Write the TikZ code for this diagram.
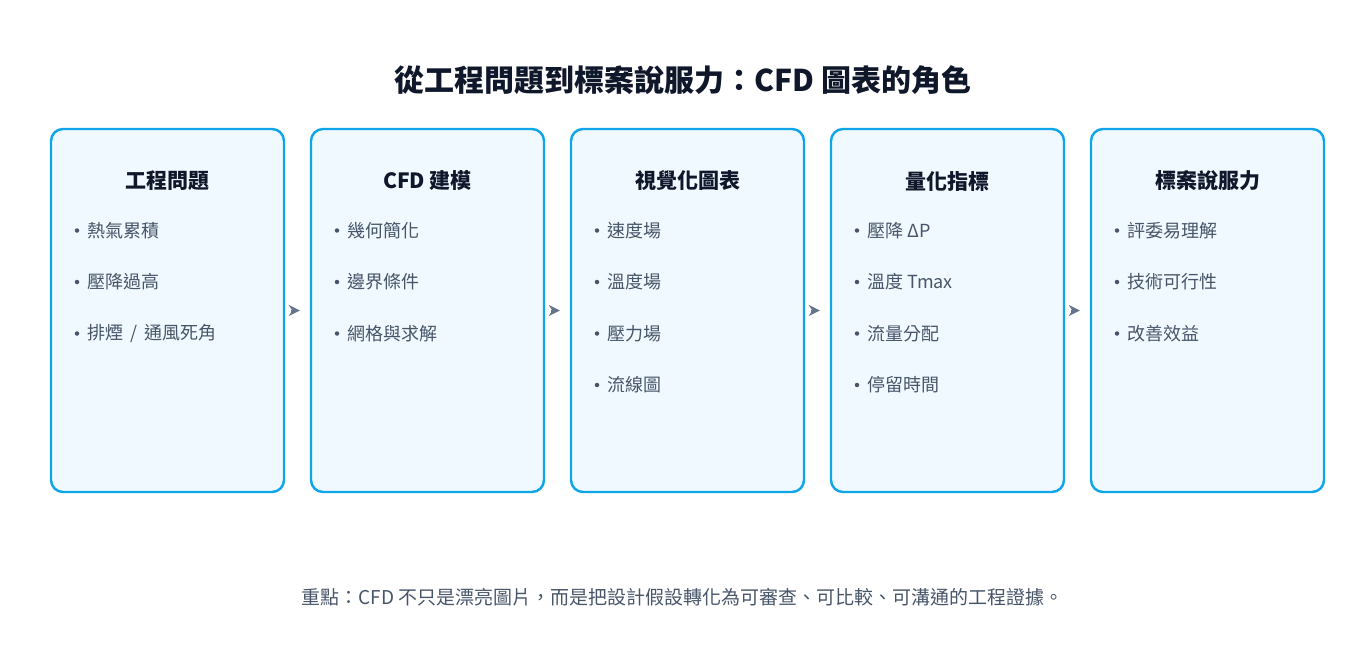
\documentclass[tikz,border=0pt]{standalone}
\usepackage{fontspec}
\setmainfont{Noto Sans CJK TC}
\usetikzlibrary{arrows.meta}
\definecolor{boxborder}{HTML}{0EA5E9}
\definecolor{boxfill}{HTML}{F0F9FF}
\definecolor{titlecol}{HTML}{0F172A}
\definecolor{itemcol}{HTML}{475569}
\definecolor{arrowcol}{HTML}{64748B}
\tikzset{
  stage/.style={draw=boxborder, fill=boxfill, line width=2.4pt, rounded corners=12pt,
    minimum width=233pt, minimum height=363pt, inner sep=0pt},
  stagetitle/.style={font=\fontsize{21}{25}\selectfont\bfseries, text=titlecol, anchor=center},
  item/.style={font=\fontsize{18}{22}\selectfont, text=itemcol, anchor=west, inner sep=0pt},
  bulletdot/.style={fill=itemcol, circle, inner sep=0pt, minimum size=4.5pt},
  flow/.style={draw=arrowcol, line width=2pt, -{Stealth[length=11pt,width=11pt,inset=3.5pt]}, shorten <=6pt, shorten >=10pt},
}
\newcommand{\itm}[4]{% box index, row, name, text
  \node[bulletdot] (d#3) at ({51+26+260*(#1-1)},{230.5+51.5*(#2-1)}) {};
  \node[item] (#3) at ({51+36+260*(#1-1)},{230.5+51.5*(#2-1)}) {#4};
}
\begin{document}
\begin{tikzpicture}[x=1pt,y=-1pt]
\useasboundingbox (0,0) rectangle (1367,671);
\node[font=\fontsize{30}{36}\selectfont\bfseries, text=titlecol] (title) at (683,80) {從工程問題到標案說服力：CFD 圖表的角色};

\foreach \i/\t in {1/工程問題,2/CFD 建模,3/視覺化圖表,4/量化指標,5/標案說服力}{
  \node[stage] (b\i) at ({167.5+260*(\i-1)},310.5) {};
  \node[stagetitle] (t\i) at ({167.5+260*(\i-1)},181) {\t};
}
\itm{1}{1}{a1}{熱氣累積}
\itm{1}{2}{a2}{壓降過高}
\itm{1}{3}{a3}{排煙\, / \,通風死角}
\itm{2}{1}{c1}{幾何簡化}
\itm{2}{2}{c2}{邊界條件}
\itm{2}{3}{c3}{網格與求解}
\itm{3}{1}{v1}{速度場}
\itm{3}{2}{v2}{溫度場}
\itm{3}{3}{v3}{壓力場}
\itm{3}{4}{v4}{流線圖}
\itm{4}{1}{q1}{壓降 ΔP}
\itm{4}{2}{q2}{溫度 Tmax}
\itm{4}{3}{q3}{流量分配}
\itm{4}{4}{q4}{停留時間}
\itm{5}{1}{p1}{評委易理解}
\itm{5}{2}{p2}{技術可行性}
\itm{5}{3}{p3}{改善效益}

\foreach \i [evaluate=\i as \j using int(\i+1)] in {1,2,3,4}{
  \draw[flow] (b\i.east) -- (b\j.west);
}
\node[font=\fontsize{19}{23}\selectfont, text=itemcol] (foot) at (682.5,597) {重點：CFD 不只是漂亮圖片，而是把設計假設轉化為可審查、可比較、可溝通的工程證據。};
\end{tikzpicture}
\end{document}
